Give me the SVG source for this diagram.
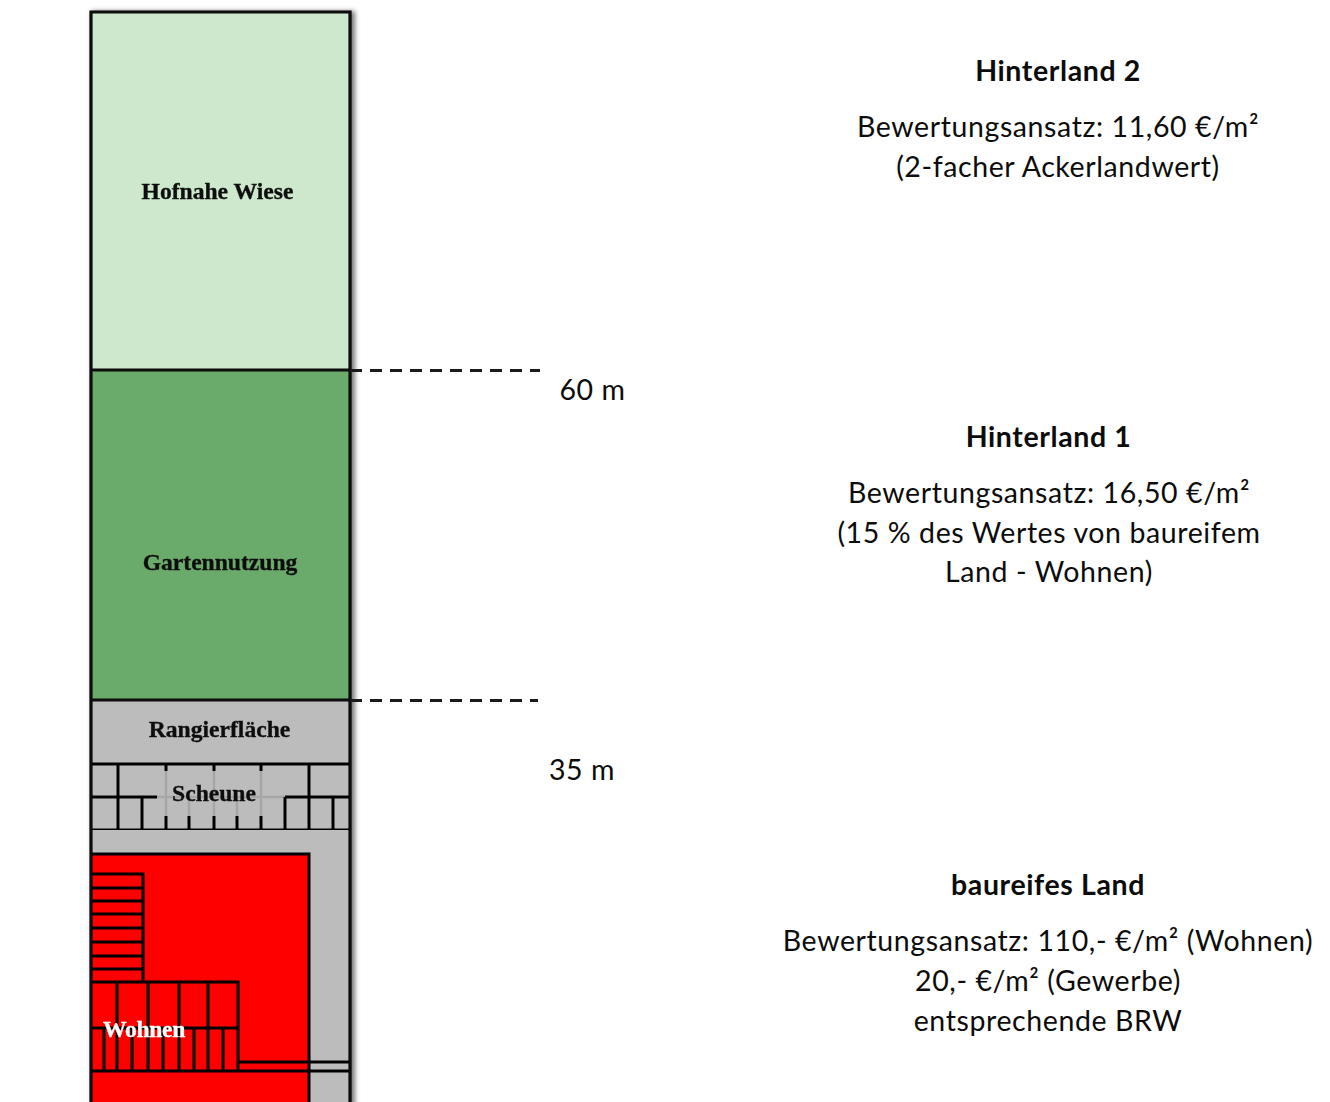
<svg xmlns="http://www.w3.org/2000/svg" width="1330" height="1102" viewBox="0 0 1330 1102">
<style>
.l{stroke:#000;stroke-width:3;fill:none}
.g{stroke:#a6a6a6;stroke-width:2.400;fill:none}
.o{stroke:#0a0a0a;stroke-width:3.200;fill:none}
.d{stroke:#1a1a1a;stroke-width:3;stroke-dasharray:12 8;fill:none}
.s{font-family:"Liberation Serif","Times New Roman",serif;font-weight:700;font-size:23.600px;fill:#111;stroke:#111;stroke-width:.35;text-anchor:middle}
.w{fill:#fff;stroke:#fff;letter-spacing:-.3px}
.t{font-family:Lato,"Open Sans",sans-serif;font-size:28.500px;letter-spacing:.6px;fill:#0c0c0c;text-anchor:middle}
.h{font-weight:700}
</style>
<defs>
<filter id="sh" x="-10%" y="-10%" width="120%" height="120%"><feGaussianBlur stdDeviation="2.500"/></filter>
<filter id="sf" x="-5%" y="-5%" width="110%" height="110%"><feGaussianBlur stdDeviation="0.600"/></filter>
</defs>
<rect width="1330" height="1102" fill="#fff"/>
<rect x="92" y="11" width="263" height="1100" fill="#777" filter="url(#sh)"/>
<g id="plot" filter="url(#sf)">
<g id="hofnahe-wiese"><rect x="91" y="12" width="259" height="358" fill="#cde8cd"/><text class="s" x="217.500" y="199">Hofnahe Wiese</text></g>
<g id="gartennutzung"><rect x="91" y="370" width="259" height="330" fill="#6aaa6a"/><text class="s" x="220" y="569.500">Gartennutzung</text></g>
<g id="rangierflaeche"><rect x="91" y="700" width="259" height="64" fill="#bcbcbc"/><text class="s" x="219.500" y="736.500">Rangierfläche</text></g>
<g id="scheune"><rect x="91" y="764" width="259" height="66" fill="#bcbcbc"/>
<path class="g" d="M157 797H285M166 771V816M214 771V816M261 771V816M189 797V816M237 797V816"/>
<path class="l" d="M91 764H350M91 830H350M91 797H157M285 797H350M118 764V830M309 764V830M142 797V830M285 797V830M333 797V830M166 764V771M214 764V771M261 764V771M166 816V830M189 816V830M214 816V830M237 816V830M261 816V830"/>
<text class="s" x="214" y="800.500">Scheune</text></g>
<g id="hof"><rect x="91" y="830" width="259" height="272" fill="#bcbcbc"/></g>
<g id="wohnen"><rect x="91" y="854" width="218" height="248" fill="#f00"/>
<path class="l" d="M91 854H309V1102M91 874H143V982M91 888H143M91 901H143M91 914H143M91 928H143M91 942H143M91 956H143M91 969H143M91 982H238V1071M91 1028H238M238 1062H350M91 1071H350M117 982V1028M148 982V1071M179 982V1071M208 982V1071M104 1028V1071M117 1028V1071M132 1028V1071M163 1028V1071M194 1028V1071M223 1028V1071"/>
<text class="s w" x="144" y="1036.500">Wohnen</text></g>
<path id="frame" class="o" d="M91 1102V12H350V1102M91 370H350M91 700H350"/>
</g>
<g id="connectors">
<path class="d" d="M350 370.500H540M350 700.500H538"/>
</g>
<g id="labels">
<text class="t" x="592.500" y="400">60 m</text>
<text class="t" x="582" y="780">35 m</text>
<g id="hinterland-2"><text class="t h" x="1058" y="81">Hinterland 2</text><text class="t" x="1058" y="137">Bewertungsansatz: 11,60 €/m²</text><text class="t" x="1058" y="177">(2-facher Ackerlandwert)</text></g>
<g id="hinterland-1"><text class="t h" x="1048.500" y="447">Hinterland 1</text><text class="t" x="1049" y="503">Bewertungsansatz: 16,50 €/m²</text><text class="t" x="1049" y="543">(15 % des Wertes von baureifem</text><text class="t" x="1049" y="582">Land - Wohnen)</text></g>
<g id="baureifes-land"><text class="t h" x="1048" y="895">baureifes Land</text><text class="t" x="1048" y="951">Bewertungsansatz: 110,- €/m² (Wohnen)</text><text class="t" x="1048" y="991">20,- €/m² (Gewerbe)</text><text class="t" x="1048" y="1031">entsprechende BRW</text></g>
</g>
</svg>
